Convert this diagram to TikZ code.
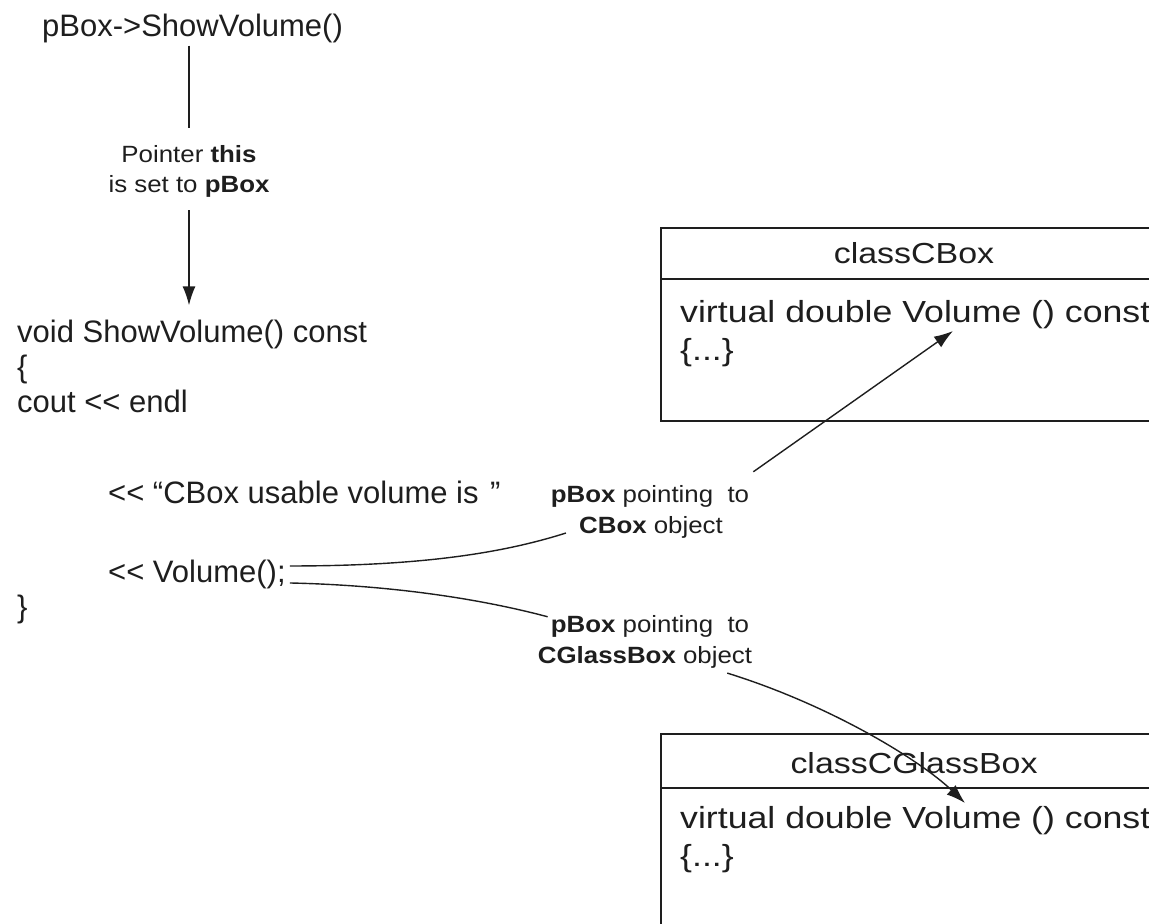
\documentclass[tikz,border=0pt]{standalone}
\usepackage{fontspec}
\setmainfont{Liberation Sans}[Ligatures=TeXOff]
\newfontfamily\boxfont{Liberation Sans}[Ligatures=TeXOff,FakeStretch=1.17]
\newfontfamily\lblfont{Liberation Sans}[Ligatures=TeXOff,FakeStretch=1.1]
\usetikzlibrary{arrows.meta,calc}
\definecolor{ink}{HTML}{1E1E1E}

\begin{document}
\begin{tikzpicture}[x=1pt,y=-1pt,
  code/.style={anchor=base west, inner sep=0pt, text=ink, font=\fontsize{31}{36}\selectfont},
  boxtext/.style={anchor=base west, inner sep=0pt, text=ink, font=\boxfont\fontsize{30.5}{36}\selectfont},
  boxhead/.style={anchor=base, inner sep=0pt, text=ink, font=\boxfont\fontsize{29}{34}\selectfont},
  lbl/.style={anchor=base, inner sep=0pt, text=ink, font=\lblfont\fontsize{23.5}{28}\selectfont},
  classbox/.style={draw=ink, line width=2pt, anchor=north west, minimum width=506pt, inner sep=0pt},
  boxrule/.style={draw=ink, line width=2pt},
  link/.style={draw=ink, line width=1.4pt},
  tip/.style={-{Latex[length=19pt,width=13pt]}}
]
\useasboundingbox (0,0) rectangle (1149,924);
\clip (0,0) rectangle (1149,924);

% call site and the member function
\node[code] (call)  at (42,36)   {pBox->ShowVolume()};
\node[code] (sig)   at (17,342)  {void ShowVolume() const};
\node[code] (open)  at (17,377)  {\{};
\node[code] (cout)  at (17,412)  {cout << endl};
\node[code] (msg)   at (108,503) {<< “CBox usable volume is\kern3pt{} ”};
\node[code] (vol)   at (108,582) {<< Volume();};
\node[code] (close) at (17,617)  {\}};

% this-pointer note
\node[lbl] (ptrA) at (189,162) {Pointer \textbf{this}};
\node[lbl] (ptrB) at (189,192) {is set to \textbf{pBox}};

\draw[link, shorten <=3pt, shorten >=17pt] (ptrA.north |- call.south) -- (ptrA.north);
\draw[link, tip, shorten <=13pt, shorten >=14pt] (ptrB.south) -- (ptrB.south |- sig.north);

% class CBox
\node[classbox, minimum height=193pt] (cbox) at (660,227) {};
\draw[boxrule] ($(cbox.north west)+(0,52)$) -- ($(cbox.north east)+(0,52)$);
\node[boxhead] (cboxname) at ($(cbox.north)+(0,36)$) {classCBox};
\node[boxtext] (cboxop)   at ($(cbox.north west)+(20,95)$)  {virtual double Volume () const};
\node[boxtext] (cboxbody) at ($(cbox.north west)+(20,133)$) {\{...\}};

% class CGlassBox
\node[classbox, minimum height=240pt] (gbox) at (660,733) {};
\draw[boxrule] ($(gbox.north west)+(0,55)$) -- ($(gbox.north east)+(0,55)$);
\node[boxhead] (gboxname) at ($(gbox.north)+(0,40)$) {classCGlassBox};
\node[boxtext] (gboxop)   at ($(gbox.north west)+(20,95)$)  {virtual double Volume () const};
\node[boxtext] (gboxbody) at ($(gbox.north west)+(20,133)$) {\{...\}};

% dispatch notes
\node[lbl] (cA) at (650,502) {\textbf{pBox} pointing\ \ to};
\node[lbl] (cB) at (651,533) {\textbf{CBox} object};
\node[lbl] (gA) at (650,632) {\textbf{pBox} pointing\ \ to};
\node[lbl] (gB) at (645,663) {\textbf{CGlassBox} object};

% Volume() call resolved through pBox
\draw[link] ($(vol.east)+(4,-8)$) .. controls +(132,0) and +(-63,20) .. ($(cB.base west)+(-13,0)$);
\draw[link] ($(vol.east)+(4,9)$) .. controls +(92,2) and +(-75,-20) .. ($(gA.north west)+(-3,2)$);
\draw[link, tip] ($(cA.north east)+(4,-13)$) -- ($(cboxop.base west)+(273,9)$);
\draw[link, tip] ($(gB.south east)+(-25,5)$) .. controls +(103,32) and +(-45,-43) .. ($(gboxop.base west)+(285,-25)$);
\end{tikzpicture}
\end{document}
